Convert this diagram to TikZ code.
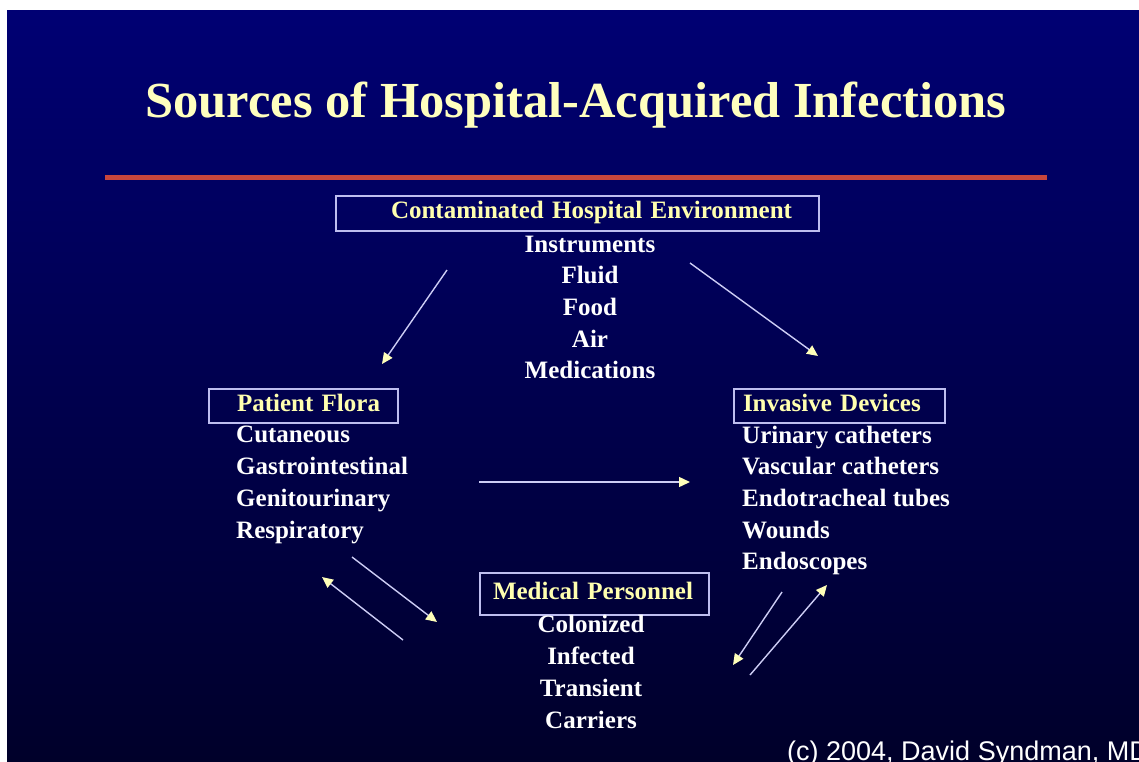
\documentclass[tikz,border=0pt]{standalone}
\usepackage{fontspec}
\setmainfont{Liberation Serif}
\newfontfamily\arialfont{Liberation Sans}
\usetikzlibrary{arrows.meta}

\definecolor{slidetop}{RGB}{0,0,115}
\definecolor{slidebot}{RGB}{0,0,42}
\definecolor{titleyel}{RGB}{255,255,190}
\definecolor{headyel}{RGB}{255,255,175}
\definecolor{boxline}{RGB}{190,190,240}
\definecolor{rulered}{RGB}{200,70,60}
\definecolor{arrline}{RGB}{205,205,245}
\definecolor{arrtip}{RGB}{255,255,185}

\begin{document}
\begin{tikzpicture}[
    x=1pt, y=-1pt,
    hd/.style={draw=boxline, line width=2pt, rectangle, anchor=west,
               inner sep=0pt, align=left, text=headyel,
               font=\fontsize{25}{31.7}\selectfont\bfseries,
               text height=16pt, text depth=5pt},
    items/.style={inner sep=0pt, text=white,
                  font=\fontsize{25}{31.7}\selectfont\bfseries},
    flow/.style={draw=arrline, line width=1.4pt,
                 -{Triangle[length=11pt, width=10pt, color=arrtip]}}
  ]
    \useasboundingbox (0,0) rectangle (1139,761);
    \fill[white] (0,0) rectangle (1139,761);
    \shade[top color=slidetop, bottom color=slidebot] (7,10) rectangle (1139,761);

    %% --- Title ---
    \node[anchor=base, inner sep=0pt, text=titleyel,
          font=\fontsize{50.5}{60}\selectfont\bfseries] (title)
      at (576,117) {Sources of Hospital-Acquired Infections};
    \draw[rulered, line width=5pt] (105,177.5) -- (1047,177.5);

    %% --- Top ---
    \node[hd, minimum height=35pt, text width=483pt] (env)
      at (335,213) {\hspace*{55pt}Contaminated Hospital Environment};
    %% base = last line
    \node[items, anchor=base, align=center] (envlist) at (590,378.8) {%
      Instruments\\
      Fluid\\
      Food\\
      Air\\
      Medications};

    %% --- Left ---
    \node[hd, minimum height=34pt, text width=189pt] (flora)
      at (208,406) {\hspace*{28pt}Patient Flora};
    \node[items, anchor=base west, align=left] (floralist) at (236,538) {%
      Cutaneous\\
      Gastrointestinal\\
      Genitourinary\\
      Respiratory};

    %% --- Right ---
    \node[hd, minimum height=34pt, text width=211pt] (devices)
      at (733,406) {\hspace*{9pt}Invasive Devices};
    \node[items, anchor=base west, align=left] (devlist) at (742,569.8) {%
      Urinary catheters\\
      Vascular catheters\\
      Endotracheal tubes\\
      Wounds\\
      Endoscopes};

    %% --- Bottom ---
    \node[hd, minimum height=42pt, text width=229pt] (staff)
      at (479,594) {\hspace*{13pt}Medical Personnel};
    \node[items, anchor=base, align=center] (stafflist) at (591,728) {%
      Colonized\\
      Infected\\
      Transient\\
      Carriers};

    %% --- Arrow ends ---
    \coordinate (envL)   at (447,270);
    \coordinate (floraT) at (382,364);
    \coordinate (envR)   at (690,263);
    \coordinate (devT)   at (818,356);
    \coordinate (floraR) at (479,482);
    \coordinate (devL)   at (690,482);
    \coordinate (floraB) at (352,557);
    \coordinate (staffL) at (437,622);
    \coordinate (staffLo) at (403,640);
    \coordinate (floraBo) at (322,577);
    \coordinate (devB)   at (782,592);
    \coordinate (staffR) at (733,665);
    \coordinate (staffRo) at (750,675);
    \coordinate (devBo)  at (827,585);

    \draw[flow] (envL) -- (floraT);
    \draw[flow] (envR) -- (devT);
    \draw[flow] (floraR) -- (devL);
    \draw[flow] (floraB) -- (staffL);
    \draw[flow] (staffLo) -- (floraBo);
    \draw[flow] (devB) -- (staffR);
    \draw[flow] (staffRo) -- (devBo);

    %% --- Credit ---
    \begin{scope}
      \clip (0,0) rectangle (1139,761);
      \node[anchor=base west, inner sep=0pt, text=white,
            font=\fontsize{27}{32}\selectfont\arialfont] (credit)
        at (787,760) {(c) 2004, David Syndman, MD};
    \end{scope}
  \end{tikzpicture}
\end{document}
